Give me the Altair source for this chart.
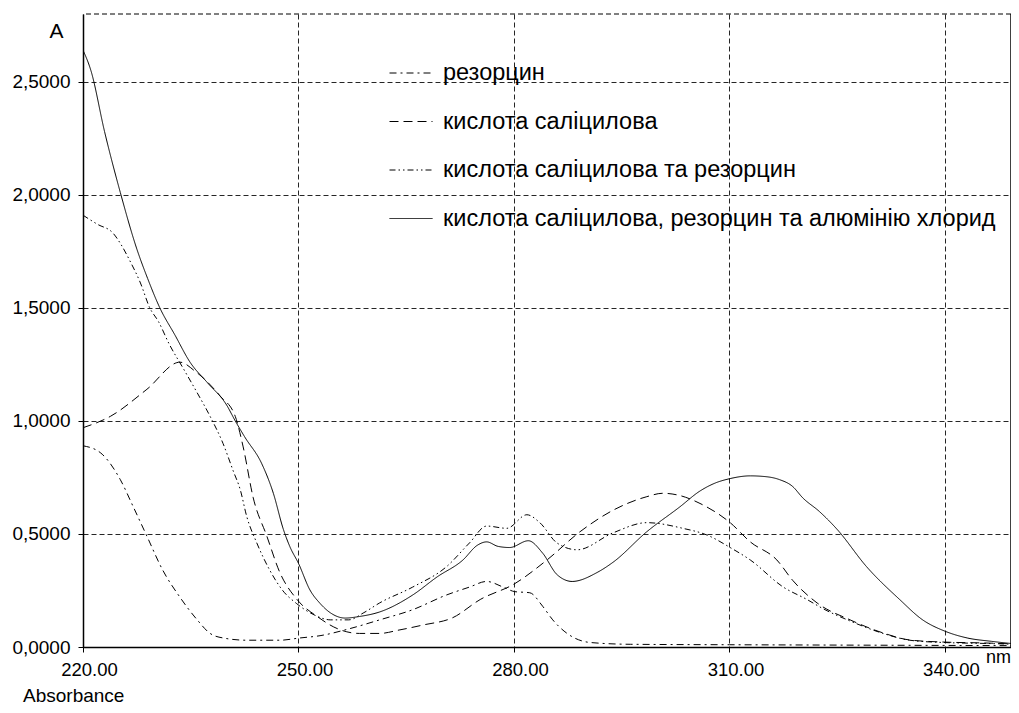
import altair as alt
import pandas as pd

series_names = [
    "резорцин",
    "кислота саліцилова",
    "кислота саліцилова та резорцин",
    "кислота саліцилова, резорцин та алюмінію хлорид",
]

# резорцин
res_nm = [220, 222.4, 225.2, 227.0, 228.9, 231.1, 233.5, 235.9, 237.7, 239.5, 242.8, 247.4,
          250.2, 253.0, 257.0, 261.3, 265.9, 270.6, 273.8, 276.2, 278.5, 280.1, 282.2, 284.0,
          285.4, 287.4, 290.6, 296.2, 310.0, 330.0, 350.0]
res_a = [0.89, 0.86, 0.74, 0.62, 0.49, 0.34, 0.22, 0.12, 0.06, 0.04, 0.03, 0.03,
         0.04, 0.05, 0.08, 0.12, 0.165, 0.23, 0.265, 0.29, 0.265, 0.245, 0.24, 0.18,
         0.12, 0.06, 0.02, 0.012, 0.01, 0.008, 0.006]

# кислота саліцилова
sal_nm = [220, 223.8, 228.9, 233.5, 235.6, 239.1, 241.2, 242.3, 243.7, 245.6, 247.4, 249.8,
          252.6, 255.5, 258.5, 261.3, 264.0, 267.3, 271.5, 275.3, 280.1, 284.6, 289.2, 293.8,
          298.5, 300.7, 303.1, 305.9, 310.1, 312.9, 316.6, 318.8, 322.2, 326.8, 331.4, 335.1,
          339.7, 345.3, 350.0]
sal_a = [0.97, 1.02, 1.14, 1.26, 1.22, 1.11, 1.02, 0.885, 0.66, 0.49, 0.33, 0.21,
         0.135, 0.08, 0.06, 0.06, 0.075, 0.097, 0.13, 0.21, 0.28, 0.385, 0.51, 0.605,
         0.665, 0.68, 0.67, 0.635, 0.55, 0.465, 0.385, 0.295, 0.195, 0.12, 0.062, 0.031,
         0.022, 0.018, 0.013]

# кислота саліцилова та резорцин
mix_nm = [220, 222.0, 224.2, 225.3, 226.5, 228.0, 229.3, 230.5, 232.0, 234.0, 235.8, 237.7,
          239.5, 240.9, 241.9, 242.8, 244.2, 246.0, 247.8, 249.7, 252.0, 254.5, 257.0, 259.0,
          261.3, 265.9, 270.6, 273.8, 276.2, 279.0, 281.8, 283.6, 286.0, 288.8, 293.8, 298.5,
          303.5, 306.9, 310.1, 312.9, 317.5, 320.8, 323.0, 326.8, 331.4, 335.1, 339.7, 345.3,
          350.0]
mix_a = [1.91, 1.87, 1.83, 1.78, 1.71, 1.61, 1.50, 1.44, 1.34, 1.23, 1.13, 1.02,
         0.90, 0.78, 0.695, 0.577, 0.46, 0.34, 0.25, 0.193, 0.145, 0.12, 0.12, 0.15,
         0.195, 0.265, 0.355, 0.46, 0.535, 0.525, 0.585, 0.55, 0.46, 0.43, 0.505, 0.55,
         0.525, 0.495, 0.44, 0.385, 0.265, 0.21, 0.17, 0.115, 0.06, 0.03, 0.02, 0.016,
         0.012]

# кислота саліцилова, резорцин та алюмінію хлорид
al_nm = [220, 221.1, 223.0, 225.2, 227.5, 229.0, 230.7, 232.8, 234.9, 237.3, 240.0, 241.2,
         242.5, 244.9, 246.5, 247.9, 248.8, 250.0, 251.6, 253.0, 254.5, 256.5, 258.5, 261.3,
         265.9, 269.3, 272.9, 274.9, 276.2, 277.8, 279.4, 282.0, 284.0, 286.0, 288.1, 291.6,
         293.8, 298.5, 303.1, 305.9, 308.0, 310.1, 312.9, 315.2, 317.0, 318.8, 320.2, 322.5,
         325.0, 329.1, 333.7, 336.9, 340.0, 343.1, 346.5, 350.0]
al_a = [2.64, 2.55, 2.28, 2.01, 1.76, 1.63, 1.50, 1.38, 1.26, 1.17, 1.07, 1.0,
        0.93, 0.81, 0.68, 0.52, 0.444, 0.37, 0.252, 0.193, 0.15, 0.128, 0.135, 0.155,
        0.23, 0.31, 0.385, 0.45, 0.465, 0.445, 0.44, 0.47, 0.415, 0.32, 0.29, 0.33,
        0.375, 0.51, 0.62, 0.69, 0.725, 0.745, 0.757, 0.753, 0.74, 0.71, 0.66, 0.60,
        0.52, 0.355, 0.21, 0.12, 0.07, 0.04, 0.025, 0.013]

x_ticks = [220, 250, 280, 310, 340]
y_ticks = [0, 0.5, 1.0, 1.5, 2.0, 2.5]
x_domain = [220, 349.2]
y_domain = [0, 2.8]

dash_patterns = [[7, 4, 2, 4], [9, 5], [6, 3, 1.5, 3, 1.5, 3], [1, 0]]

rows = []
for name, xs, ys in zip(series_names, [res_nm, sal_nm, mix_nm, al_nm], [res_a, sal_a, mix_a, al_a]):
    for xv, yv in zip(xs, ys):
        rows.append({"series": name, "nm": xv, "A": yv})
df = pd.DataFrame(rows)

FONT = "Liberation Sans"

x_scale = alt.Scale(domain=x_domain, nice=False, zero=False)
y_scale = alt.Scale(domain=y_domain, nice=False, zero=True)

lines = alt.Chart(df).mark_line(color="black", strokeWidth=1, interpolate="monotone", clip=True).encode(
    x=alt.X("nm:Q", scale=x_scale,
            axis=alt.Axis(values=x_ticks, format=".2f", title="nm", titleX=915, titleY=15,
                          titleAlign="center", titleBaseline="alphabetic", titleFontSize=18,
                          titleFontWeight="normal", titleFont=FONT, titleColor="black",
                          labelFontSize=18.5, labelFont=FONT, labelColor="black", labelPadding=8,
                          labelOffset=6, labelFlush=False, labelOverlap=False,
                          tickSize=5, tickColor="black", domainColor="black", domainWidth=1.5,
                          grid=True, gridColor="black", gridDash=[5, 3], gridWidth=1, gridOpacity=0.85)),
    y=alt.Y("A:Q", scale=y_scale,
            axis=alt.Axis(values=y_ticks, labelExpr="replace(format(datum.value, '.4f'), '.', ',')",
                          title="A", titleAngle=0, titleX=-27, titleY=23, titleAlign="center",
                          titleBaseline="alphabetic", titleFontSize=21, titleFontWeight="normal",
                          titleFont=FONT, titleColor="black",
                          labelFontSize=19, labelFont=FONT, labelColor="black", labelPadding=8,
                          labelOverlap=False, labelFlush=False,
                          tickSize=5, tickColor="black", domainColor="black", domainWidth=1.5,
                          grid=True, gridColor="black", gridDash=[5, 3], gridWidth=1, gridOpacity=0.85)),
    strokeDash=alt.StrokeDash("series:N", sort=series_names,
                              scale=alt.Scale(domain=series_names, range=dash_patterns),
                              legend=alt.Legend(orient="none", legendX=306, legendY=37, title=None,
                                                labelFontSize=23.5, labelFont=FONT, labelColor="black",
                                                symbolType="stroke", symbolSize=1849,
                                                symbolStrokeWidth=1, symbolStrokeColor="black",
                                                labelOffset=10, rowPadding=14.5, padding=0,
                                                labelLimit=800, symbolLimit=0)),
)

top_border = alt.Chart(pd.DataFrame({"v": [0]})).mark_rule(
    color="black", strokeWidth=1, strokeDash=[5, 3]).encode(y=alt.datum(y_domain[1]))
right_border = alt.Chart(pd.DataFrame({"v": [0]})).mark_rule(
    color="black", strokeWidth=1.5).encode(x=alt.datum(x_domain[1]))

absorbance = alt.Chart(pd.DataFrame({"t": ["Absorbance"]})).mark_text(
    align="left", baseline="alphabetic", fontSize=19, font=FONT, color="black").encode(
    text="t:N", x=alt.value(-60), y=alt.value(688))

chart = alt.layer(top_border, right_border, lines, absorbance).properties(
    width=928, height=633,
    autosize=alt.AutoSizeParams(type="none"),
    padding={"left": 75, "top": 6, "right": 0, "bottom": 58},
).configure_view(stroke=None)

chart.save("out.html", embed_options={"renderer": "svg", "actions": False})
